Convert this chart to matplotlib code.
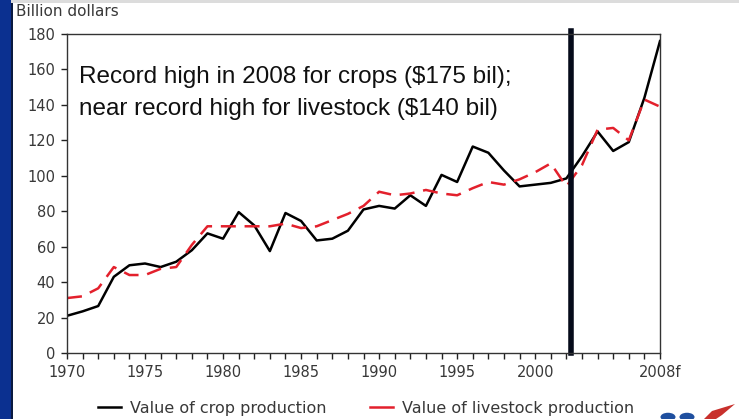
import matplotlib
matplotlib.use('Agg')
import matplotlib.pyplot as plt
from matplotlib.patches import Rectangle, Circle, Polygon

plt.rcParams['font.family'] = ['DejaVu Sans']

# Values (billion dollars)
years = list(range(1970, 2009))
crop_value = [21, 23.5, 26.5, 43, 49.5, 50.5, 48.5, 51.5, 58, 67.5,
              64.5, 79.5, 72, 57.5, 79, 74.5, 63.5, 64.5, 69, 81,
              83, 81.5, 89, 83, 100.5, 96.5, 116.5, 113, 103, 94,
              95, 96, 98.5, 111, 125, 114, 119, 144, 176]
livestock_value = [31, 32, 36.5, 48.5, 44, 44, 47.5, 48.5, 61, 71.5,
                   71.5, 71.5, 71.5, 71.5, 73, 70.5, 71.5, 75, 78.5, 83,
                   91, 89, 90, 92, 90, 89, 93, 96.5, 95, 98,
                   102, 107, 94, 106, 126, 127, 120, 143, 139]
tick_years = [1970, 1975, 1980, 1985, 1990, 1995, 2000, 2008]
tick_labels = ['1970', '1975', '1980', '1985', '1990', '1995', '2000', '2008f']
divider_year = 2002.3

fig = plt.figure(figsize=(7.39, 4.19), dpi=100)
fig.patch.set_facecolor('white')

# blue slide border on the left
fig.patches.append(Rectangle((0, 0), 11 / 739, 1, transform=fig.transFigure,
                             facecolor='#0b3090', edgecolor='none', zorder=0))
fig.patches.append(Rectangle((11 / 739, 0), 1.5 / 739, 1, transform=fig.transFigure,
                             facecolor='#0a1a40', edgecolor='none', zorder=0))
# thin grey line on top
fig.patches.append(Rectangle((11 / 739, 1 - 3 / 419), 1, 3 / 419, transform=fig.transFigure,
                             facecolor='#dcdcdc', edgecolor='none', zorder=0))

ax = fig.add_axes([67 / 739, 1 - 353 / 419, 593 / 739, 319 / 419])

ax.plot(years, crop_value, color='black', lw=1.8, label='Value of crop production')
ax.plot(years, livestock_value, color='#e3202c', lw=1.8, dashes=(6, 3.5),
        label='Value of livestock production')

ax.axvline(divider_year, ymin=0, ymax=1.008, color='#050a1a', lw=4, clip_on=False)

ax.set_xlim(1970, 2008)
ax.set_ylim(0, 180)
ax.set_yticks(range(0, 181, 20))
ax.set_xticks(years, minor=True)
ax.set_xticks(tick_years)
ax.set_xticklabels(tick_labels)
ax.tick_params(axis='both', which='both', direction='out', length=4.5, width=1,
               color='#222222', labelsize=10.5, labelcolor='#383838')
ax.tick_params(axis='x', which='both', pad=4)
ax.tick_params(axis='y', pad=4)
for s in ax.spines.values():
    s.set_color('#333333')
    s.set_linewidth(1)

fig.text(16 / 739, 1 - 12 / 419, 'Billion dollars', fontsize=11, color='#383838',
         va='center', ha='left')

fig.text(79 / 739, 1 - 83 / 419, 'Record high in 2008 for crops ($175 bil);',
         fontsize=17.5, color='#101010', va='baseline', family='Liberation Sans')
fig.text(79 / 739, 1 - 115 / 419, 'near record high for livestock ($140 bil)',
         fontsize=17.5, color='#101010', va='baseline', family='Liberation Sans')

# legend below the plot
leg = fig.legend(loc='center', bbox_to_anchor=(366 / 739, 1 - 408 / 419), ncol=2,
                 frameon=False, fontsize=11.5, handlelength=1.45, columnspacing=2.7,
                 handletextpad=0.55)
for line in leg.get_lines():
    line.set_linestyle('-')
for t in leg.get_texts():
    t.set_color('#383838')

# logo fragment bottom right
for cx in (668, 687):
    fig.patches.append(Circle((cx / 739, 1 - 417 / 419), 7.5 / 739, transform=fig.transFigure,
                              facecolor='#1f4f9f', edgecolor='none'))
fig.patches.append(Polygon([(704 / 739, 0), (712 / 739, 8 / 419), (735 / 739, 15 / 419),
                            (722 / 739, 4 / 419), (716 / 739, 0)],
                           transform=fig.transFigure, facecolor='#c8302c', edgecolor='none'))

fig.savefig('out.png', dpi=100)
